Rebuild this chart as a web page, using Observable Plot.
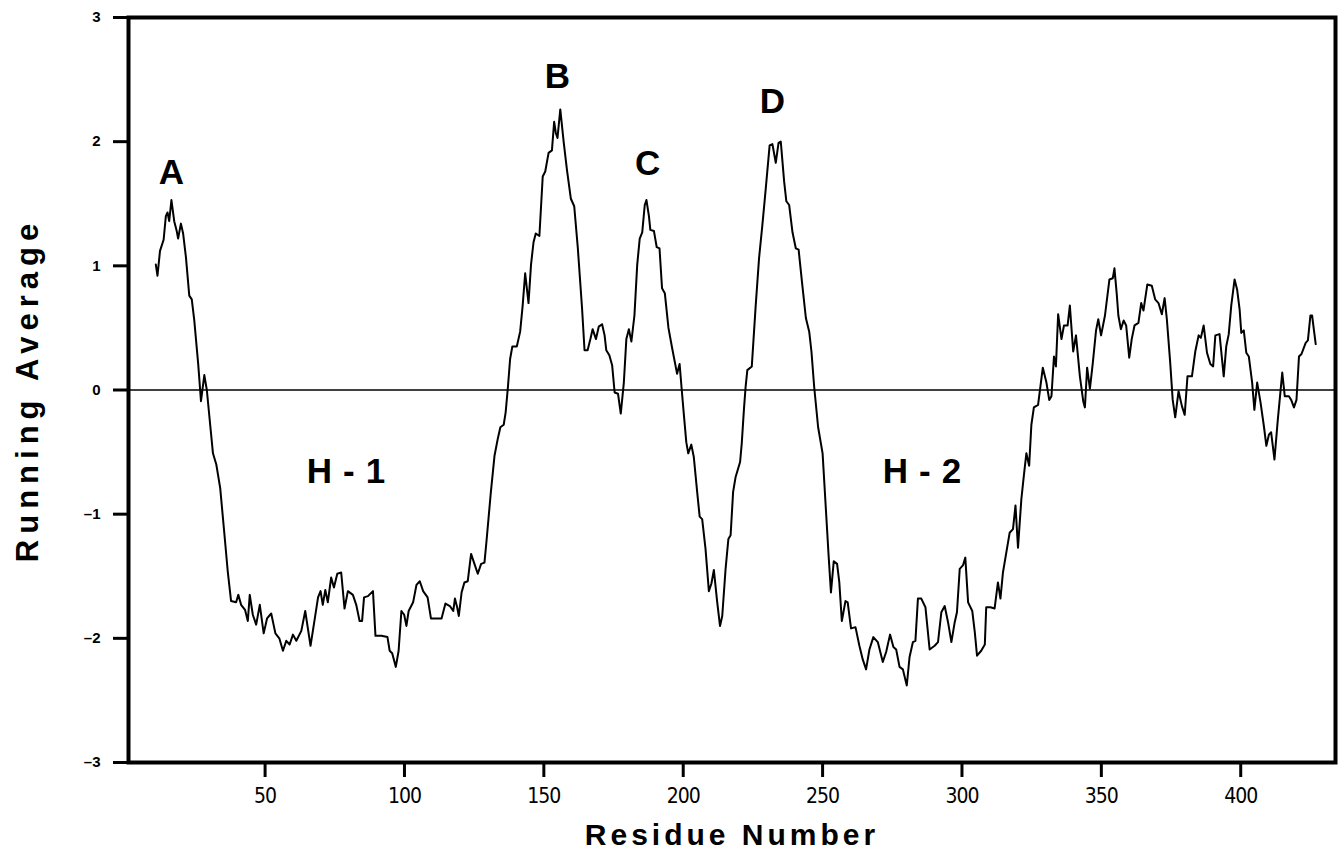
<!DOCTYPE html>
<html>
<head>
<meta charset="utf-8">
<script src="https://cdn.jsdelivr.net/npm/d3@7"></script>
<script src="https://cdn.jsdelivr.net/npm/@observablehq/plot@0.6"></script>
<style>
  html, body { margin: 0; padding: 0; background: #fff; }
  #chart { width: 1339px; height: 859px; }
</style>
</head>
<body>
<div id="chart"></div>
<script>
// Residue numbers (x)
const residues = [
  10.8,11.4,12.3,13.6,14.4,15.0,15.6,16.4,17.4,18.3,18.8,19.8,20.6,21.6,22.8,23.7,24.6,26.0,27.0,28.2,29.1,30.3,31.3,32.5,33.9,35.4,36.6,37.8,39.6,40.4,
  41.4,42.8,43.8,44.5,45.6,46.8,48.1,49.5,50.7,52.2,53.7,55.1,56.4,57.6,58.8,60.0,61.2,63.0,64.4,66.3,67.7,69.0,69.9,70.7,71.6,72.5,73.7,74.7,75.9,77.3,
  78.5,79.7,81.5,82.7,83.9,84.8,85.5,86.9,88.7,89.6,91.7,93.9,94.7,95.6,96.9,97.9,98.9,99.9,100.7,101.5,103.1,104.3,105.5,106.7,108.3,109.5,110.9,113.3,114.7,116.3,
  117.5,118.1,118.9,119.5,120.5,121.5,122.7,123.9,125.1,126.3,127.5,128.7,129.5,131.0,132.3,133.5,134.4,135.6,136.3,137.1,137.9,138.7,140.3,141.5,142.4,143.3,144.5,145.4,146.3,147.1,
  148.4,149.6,150.5,151.7,152.9,153.7,154.3,154.9,155.9,157.1,158.3,159.7,160.9,162.2,163.7,164.6,165.7,166.7,167.5,168.7,169.7,170.9,171.8,172.4,173.5,174.5,175.4,176.6,177.6,178.7,
  179.6,180.5,181.4,182.5,183.5,184.4,185.3,186.2,186.8,187.7,188.2,189.5,190.5,191.5,192.4,193.4,194.7,196.0,197.2,197.8,198.7,199.4,200.2,201.1,201.8,202.9,203.8,205.0,205.9,206.8,
  208.0,209.2,210.1,211.0,212.2,213.2,214.0,215.2,216.2,217.0,217.9,218.8,220.4,221.0,221.8,222.4,223.0,224.6,226.0,227.2,228.4,229.6,231.0,232.0,233.2,234.2,235.0,236.2,237.0,238.0,
  239.2,240.4,241.4,242.6,244.0,245.2,246.0,247.0,248.4,250.0,251.1,252.2,253.0,254.0,255.2,256.0,256.9,258.2,259.0,260.2,261.8,263.2,264.4,265.6,266.8,268.2,269.8,271.6,272.8,274.2,
  275.4,276.4,277.6,278.8,280.2,281.2,282.4,283.3,284.2,285.4,286.9,288.4,290.2,291.4,292.6,293.8,295.0,296.2,297.4,298.2,299.2,300.4,301.2,302.2,303.7,304.6,305.4,306.9,308.2,308.7,
  310.2,311.7,312.9,313.8,314.7,315.9,317.1,318.3,319.2,320.1,321.3,322.2,323.1,324.1,324.9,325.8,327.3,328.2,329.0,330.3,331.3,332.1,333.0,333.7,334.5,335.7,336.6,337.9,338.7,339.9,
  340.9,342.3,343.5,344.1,344.9,345.9,346.9,348.1,348.9,349.9,351.3,352.9,354.1,354.7,355.5,356.1,357.0,358.0,358.9,360.0,360.9,361.9,363.3,364.3,365.1,366.5,368.1,369.3,370.5,371.7,
  372.7,373.5,374.7,375.6,376.5,377.7,378.9,379.9,380.9,382.5,383.7,384.9,385.7,386.7,387.9,389.1,390.1,390.9,392.4,393.9,394.8,395.7,396.6,397.8,398.7,399.6,400.2,401.1,402.0,402.9,
  404.1,404.9,405.9,407.1,408.3,409.2,410.1,410.9,412.1,413.3,414.9,415.8,417.3,418.1,419.1,420.0,420.9,421.8,423.3,424.1,425.0,425.6,426.9
];
// Running average values (y)
const runningAverage = [
  1.01,0.92,1.12,1.21,1.40,1.43,1.36,1.53,1.36,1.28,1.22,1.34,1.26,1.07,0.76,0.73,0.56,0.21,-0.09,0.12,0.00,-0.28,-0.51,-0.60,-0.79,-1.16,-1.46,-1.70,-1.71,-1.65,
  -1.73,-1.77,-1.86,-1.65,-1.81,-1.89,-1.73,-1.96,-1.84,-1.80,-1.96,-2.00,-2.10,-2.02,-2.05,-1.97,-2.02,-1.94,-1.78,-2.06,-1.86,-1.67,-1.62,-1.73,-1.61,-1.71,-1.51,-1.59,-1.48,-1.47,
  -1.76,-1.62,-1.65,-1.73,-1.86,-1.86,-1.67,-1.66,-1.62,-1.98,-1.98,-1.99,-2.10,-2.12,-2.23,-2.10,-1.78,-1.81,-1.90,-1.78,-1.71,-1.57,-1.54,-1.62,-1.67,-1.84,-1.84,-1.84,-1.72,-1.74,
  -1.78,-1.68,-1.75,-1.82,-1.63,-1.55,-1.54,-1.32,-1.40,-1.48,-1.40,-1.39,-1.20,-0.82,-0.53,-0.39,-0.30,-0.28,-0.18,0.02,0.25,0.35,0.35,0.47,0.68,0.94,0.70,1.01,1.19,1.26,
  1.24,1.72,1.76,1.91,1.93,2.16,2.07,2.03,2.26,2.00,1.77,1.54,1.48,1.14,0.66,0.32,0.32,0.41,0.49,0.41,0.51,0.53,0.44,0.32,0.28,0.20,-0.02,-0.03,-0.19,0.06,
  0.41,0.49,0.39,0.60,1.01,1.22,1.27,1.49,1.53,1.40,1.29,1.28,1.15,1.14,0.82,0.78,0.50,0.34,0.20,0.13,0.21,0.02,-0.19,-0.42,-0.51,-0.44,-0.54,-0.82,-1.02,-1.04,
  -1.28,-1.62,-1.56,-1.45,-1.71,-1.90,-1.82,-1.44,-1.20,-1.17,-0.82,-0.70,-0.58,-0.43,-0.15,0.03,0.16,0.19,0.68,1.06,1.33,1.62,1.97,1.98,1.83,1.99,2.00,1.68,1.52,1.49,
  1.27,1.14,1.13,0.87,0.58,0.47,0.31,0.02,-0.30,-0.51,-0.93,-1.35,-1.63,-1.38,-1.40,-1.55,-1.86,-1.70,-1.71,-1.92,-1.91,-2.06,-2.17,-2.25,-2.09,-1.99,-2.03,-2.19,-2.11,-1.97,
  -2.07,-2.09,-2.23,-2.25,-2.38,-2.15,-2.03,-2.02,-1.68,-1.68,-1.75,-2.09,-2.06,-2.03,-1.79,-1.74,-1.87,-2.03,-1.87,-1.79,-1.44,-1.41,-1.35,-1.71,-1.78,-1.95,-2.14,-2.10,-2.05,-1.75,
  -1.75,-1.76,-1.55,-1.68,-1.47,-1.31,-1.15,-1.12,-0.93,-1.27,-0.88,-0.69,-0.51,-0.61,-0.28,-0.14,-0.12,0.04,0.18,0.06,-0.08,-0.05,0.27,0.19,0.61,0.41,0.52,0.52,0.68,0.31,
  0.44,0.11,-0.09,-0.14,0.18,0.01,0.21,0.48,0.57,0.44,0.60,0.89,0.90,0.98,0.78,0.60,0.49,0.56,0.52,0.26,0.41,0.52,0.54,0.70,0.64,0.85,0.84,0.73,0.70,0.61,
  0.74,0.57,0.22,-0.08,-0.22,-0.01,-0.13,-0.20,0.11,0.11,0.31,0.44,0.42,0.52,0.30,0.21,0.19,0.44,0.45,0.11,0.35,0.45,0.68,0.89,0.81,0.65,0.46,0.48,0.30,0.27,
  0.06,-0.16,0.06,-0.10,-0.29,-0.45,-0.36,-0.34,-0.56,-0.24,0.14,-0.05,-0.05,-0.08,-0.14,-0.08,0.27,0.29,0.38,0.40,0.60,0.60,0.37
];
// Tick labels
const xTicks = [50, 100, 150, 200, 250, 300, 350, 400];
const yTicks = [-3, -2, -1, 0, 1, 2, 3];
// Region annotations
const annotationText = ["A", "B", "C", "D", "H-1", "H-2"];
const annotationResidue = [16.4, 154.9, 187.2, 232.0, 81.0, 287.6];
const annotationValue = [1.75, 2.52, 1.82, 2.32, -0.66, -0.66];
// Axis titles
const xTitle = "Residue Number";
const yTitle = "Running Average";

const series = residues.map((r, i) => ({residue: r, value: runningAverage[i]}));
const annotations = annotationText.map((t, i) => ({text: t, residue: annotationResidue[i], value: annotationValue[i]}));

const heavy = "'Liberation Sans', Arial, 'DejaVu Sans', sans-serif";
const narrow = "'Liberation Sans Narrow', 'DejaVu Sans Condensed', 'Liberation Sans', sans-serif";
const yFmt = d => d < 0 ? "\u2013" + Math.abs(d) : String(d);

const chart = Plot.plot({
  width: 1339,
  height: 859,
  marginLeft: 128,
  marginRight: 4,
  marginTop: 17,
  marginBottom: 97,
  style: {background: "#fff", color: "#000", fontFamily: heavy},
  x: {domain: [1, 434], axis: null},
  y: {domain: [-3, 3], axis: null},
  marks: [
    Plot.ruleY([0], {stroke: "#000", strokeWidth: 1.5}),
    Plot.line(series, {x: "residue", y: "value", stroke: "#000", strokeWidth: 2, curve: "linear"}),
    Plot.text(annotations, {x: "residue", y: "value", text: "text", fontSize: 35, fontWeight: 900, fill: "#000"}),
    Plot.frame({stroke: "#000", strokeWidth: 4}),
    // tick marks (labels drawn separately below)
    Plot.axisX({ticks: xTicks, anchor: "bottom", tickSize: 15, strokeWidth: 3, tickFormat: () => "", label: null}),
    Plot.axisY({ticks: yTicks, anchor: "left", tickSize: 15, strokeWidth: 3, tickFormat: () => "", label: null}),
    // tick labels
    Plot.text(xTicks, {x: d => d, frameAnchor: "bottom", dy: 34, text: d => String(d), textAnchor: "middle", lineAnchor: "middle", fontSize: 21, fontFamily: narrow}),
    Plot.text(yTicks, {y: d => d, frameAnchor: "left", dx: -28, text: yFmt, textAnchor: "end", lineAnchor: "middle", fontSize: 15, fontWeight: "bold"}),
    // axis titles
    Plot.text([xTitle], {frameAnchor: "bottom", dy: 82, textAnchor: "middle", text: d => d, fontSize: 30, fontWeight: 900}),
    Plot.text([yTitle], {frameAnchor: "left", dx: -100, rotate: -90, textAnchor: "middle", text: d => d, fontSize: 31, fontWeight: 900})
  ]
});

document.getElementById("chart").appendChild(chart);
const svg = d3.select(chart);
const xLabelSet = new Set(xTicks.map(String));
svg.selectAll("text").each(function() {
  const t = this.textContent;
  const s = d3.select(this);
  if (t === xTitle) s.style("letter-spacing", "4px");
  else if (t === yTitle) s.style("letter-spacing", "6px");
  else if (t === "H-1" || t === "H-2") s.style("letter-spacing", "11px");
  else if (xLabelSet.has(t)) s.style("letter-spacing", "-1px");
});
</script>
</body>
</html>
